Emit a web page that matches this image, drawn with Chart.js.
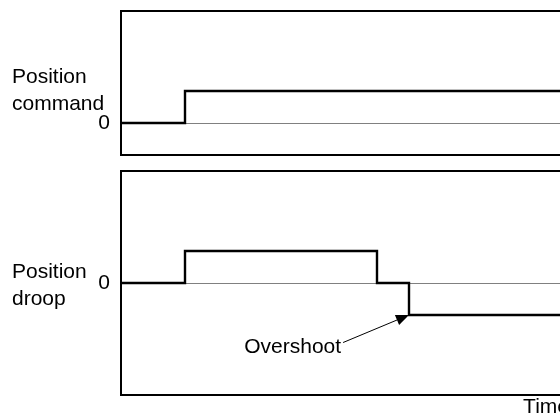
<!DOCTYPE html>
<html>
<head>
<meta charset="utf-8">
<script src="https://cdn.jsdelivr.net/npm/chart.js@4/dist/chart.umd.min.js"></script>
<style>
  html, body { margin: 0; padding: 0; background: #fff; }
  body { width: 560px; height: 418px; overflow: hidden; position: relative; }
  canvas { position: absolute; left: 0; }
  #cmd { top: 0; }
  #droop { top: 163px; }
</style>
</head>
<body>
<canvas id="cmd" width="580" height="163"></canvas>
<canvas id="droop" width="580" height="255"></canvas>
<script>
// time points where the signals change (arbitrary time units)
const commandTimes = [0, 2, 14];
const commandValues = [0, 1, 1];
const droopTimes = [0, 2, 8, 9, 14];
const droopValues = [0, 1, 0, -1, -1];
const overshootIndex = 3;   // droop point the arrow points at

const toPoints = (xs, ys) => xs.map((x, i) => ({x: x, y: ys[i]}));

const FONT = 'Arial, "Liberation Sans", sans-serif';
Chart.defaults.font.family = FONT;
Chart.defaults.font.size = 21;
Chart.defaults.color = '#000';

// box round the plot area
const frame = {
  id: 'frame',
  afterDraw(chart) {
    const a = chart.chartArea, ctx = chart.ctx;
    ctx.save();
    ctx.strokeStyle = '#000';
    ctx.lineWidth = 2;
    ctx.strokeRect(a.left, a.top, a.right - a.left, a.bottom - a.top);
    ctx.restore();
  }
};

// horizontal label left of the y axis, placed relative to the zero line
const sideLabel = {
  id: 'sideLabel',
  afterDraw(chart, args, opts) {
    if (!opts.lines) return;
    const ctx = chart.ctx;
    const y0 = chart.scales.y.getPixelForValue(0);
    ctx.save();
    ctx.font = '21px ' + FONT;
    ctx.fillStyle = '#000';
    ctx.textAlign = 'left';
    ctx.textBaseline = 'alphabetic';
    opts.lines.forEach((t, i) => ctx.fillText(t, 12, y0 + opts.first + i * 27));
    ctx.restore();
  }
};

const zeroOnly = scale => { scale.ticks = [{value: 0}]; };
const fixWidth = scale => {
  scale.width = 121;
  scale.paddingTop = 0;
  scale.paddingBottom = 0;
};

function makeOptions(ymin, ymax, lines, first, showTime) {
  return {
    responsive: false,
    animation: false,
    devicePixelRatio: 1,
    layout: {padding: {left: 0, right: 11, top: showTime ? 8 : 11, bottom: showTime ? 0 : 8}},
    plugins: {
      legend: {display: false},
      tooltip: {enabled: false},
      sideLabel: {lines: lines, first: first}
    },
    elements: {point: {radius: 0}},
    scales: {
      x: {
        type: 'linear',
        min: 0,
        max: 14,
        display: showTime,
        grid: {display: false, drawTicks: false},
        border: {display: false},
        ticks: {display: false},
        afterFit: scale => { scale.paddingLeft = 0; scale.paddingRight = 0; },
        title: {
          display: showTime,
          text: 'Time',
          align: 'end',
          font: {size: 21, lineHeight: 1},
          padding: {top: 2, bottom: 0}
        }
      },
      y: {
        min: ymin,
        max: ymax,
        afterBuildTicks: zeroOnly,
        afterFit: fixWidth,
        grid: {color: '#808080', lineWidth: 1, drawTicks: false},
        border: {display: false},
        ticks: {padding: 11, font: {size: 21}}
      }
    }
  };
}

new Chart(document.getElementById('cmd'), {
  type: 'line',
  data: {
    datasets: [{
      data: toPoints(commandTimes, commandValues),
      borderColor: '#000',
      borderWidth: 2.4,
      stepped: true,
      fill: false
    }]
  },
  options: makeOptions(-1, 3.5, ['Position', 'command'], -40, false),
  plugins: [frame, sideLabel]
});

// arrow and text pointing at the overshoot corner
const overshootNote = {
  id: 'overshootNote',
  afterDraw(chart) {
    const ctx = chart.ctx, xs = chart.scales.x, ys = chart.scales.y;
    const tipX = xs.getPixelForValue(droopTimes[overshootIndex]);
    const tipY = ys.getPixelForValue(droopValues[overshootIndex]);
    const sx = xs.getPixelForValue(6.94), sy = ys.getPixelForValue(-1.86);
    const ang = Math.atan2(tipY - sy, tipX - sx);
    const len = 13, half = 5.5;
    const bx = tipX - len * Math.cos(ang), by = tipY - len * Math.sin(ang);
    ctx.save();
    ctx.strokeStyle = '#000';
    ctx.fillStyle = '#000';
    ctx.lineWidth = 1;
    ctx.beginPath();
    ctx.moveTo(sx, sy);
    ctx.lineTo(bx, by);
    ctx.stroke();
    ctx.beginPath();
    ctx.moveTo(tipX, tipY);
    ctx.lineTo(bx + half * Math.sin(ang), by - half * Math.cos(ang));
    ctx.lineTo(bx - half * Math.sin(ang), by + half * Math.cos(ang));
    ctx.closePath();
    ctx.fill();
    ctx.font = '21px ' + FONT;
    ctx.textAlign = 'right';
    ctx.textBaseline = 'alphabetic';
    ctx.fillText('Overshoot', sx - 2, sy + 10);
    ctx.restore();
  }
};

new Chart(document.getElementById('droop'), {
  type: 'line',
  data: {
    datasets: [{
      data: toPoints(droopTimes, droopValues),
      borderColor: '#000',
      borderWidth: 2.4,
      stepped: true,
      fill: false
    }]
  },
  options: makeOptions(-3.5, 3.5, ['Position', 'droop'], -5, true),
  plugins: [frame, sideLabel, overshootNote]
});
</script>
</body>
</html>
